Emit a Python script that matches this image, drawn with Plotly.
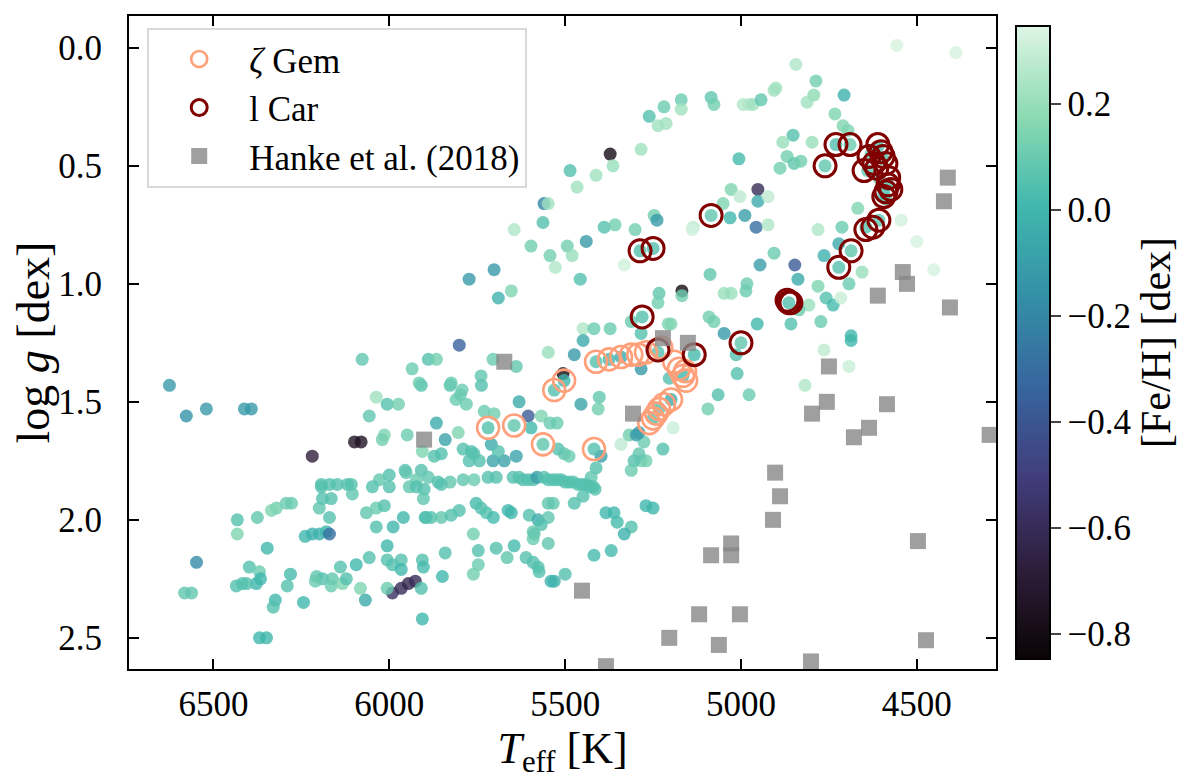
import plotly.graph_objects as go

# main sample: Teff [K], log g [dex], [Fe/H] [dex]
teff = [
    6625, 6577, 6520, 6412, 6392, 6548, 6582, 6562, 6219, 6099, 6080,
    6037, 6006, 5974, 6057, 6014, 6020, 5949, 5909, 5906, 5955, 5909, 5923,
    6028, 6000, 6048, 6000, 5943, 5923, 5901, 6193, 6170, 6148, 6119, 6108,
    6193, 6105, 6190, 6165, 6199, 6170, 6278, 6293, 6321, 6335, 6432, 6375,
    6432, 6239, 6219, 6199, 6179, 6170, 6065, 6037, 6014, 6037, 5989, 5960,
    5898, 6347, 6006, 6057, 6006, 5991, 5966, 5966, 6398, 6369, 6366, 6378,
    6418, 6435, 6406, 6281, 6290, 6207, 6190, 6210, 6162, 6165, 6133, 6122,
    6139, 6094, 6082, 6324, 6330, 6244, 6068, 6369, 6349, 5906, 5991, 5966,
    5946, 5926, 6006, 5909, 5906, 6077, 5935, 5889,
    5827, 5738, 5798, 5810, 5781, 5730, 5702, 5631, 5605, 5568, 5543, 5523,
    5597, 5455, 5403, 5406, 5866, 5841, 5804, 5710, 5872, 5852, 5790, 5767,
    5759, 5744, 5773, 5705, 5673, 5639, 5690, 5520, 5503, 5489, 5398, 5412,
    5426, 5952, 5889, 5861, 5852, 5827, 5790, 5759, 5719, 5696, 5648, 5631,
    5620, 5605, 5590, 5580, 5560, 5548, 5534, 5522, 5511, 5500, 5489, 5477,
    5463, 5452, 5440, 5430, 5420, 5415, 5903, 5449, 5474, 5548, 5534, 5753,
    5739, 5724, 5704, 5662, 5653, 5602, 5577, 5548, 5568, 5591, 5588, 5591,
    5548, 5895, 5881, 5852, 5824, 5801, 5761, 5747, 5747, 5761, 5696, 5665,
    5645, 5611, 5591, 5577, 5574, 5540, 5531, 5500, 5841, 5849, 5903, 5384,
    5361, 5352, 5312, 5332, 5369, 5418, 5270, 5250, 5284, 5304, 5270, 5312,
    5222, 5276, 5290, 5341, 5318, 5298, 5193, 5290,
    4858, 4773, 4687, 4687, 4764, 4693, 4818, 4954, 5048, 5091, 5077, 5011,
    5065, 4977, 5094, 5014, 4758, 4738, 4716, 4807, 4835,
    4557, 4389, 4844, 4787, 4793, 4812, 4707, 4901, 4906, 5085, 5077, 4994,
    4977, 4966, 4943, 5170, 5170, 4733, 4710, 4696, 4852, 4881, 4798, 5006,
    4869, 4849, 4830, 4889, 4630, 4608, 4588, 4952, 4952, 4923, 5028, 5003,
    5051, 5031, 4989, 4957, 4923, 5136, 4668, 4713, 4781, 4545, 4500, 4452,
    4722, 4764, 4656, 4906, 4946, 4847, 4838, 5088, 4983, 4986, 4781, 4693,
    5048, 5028, 5168, 5168,
    5261, 5219, 5236, 5213, 5284, 5372, 5364, 5486, 5412, 5466, 5560, 5548,
    5563, 5645, 5597, 5543, 5528, 5494, 5480, 5440, 5457, 5389, 5358, 5301,
    5247, 5239, 5139, 5332, 5773, 5702, 5690, 5653, 5233, 5236, 5312, 5207,
    5199, 5449, 5418, 5372, 5449, 5474, 5801, 5548, 5284, 5866, 5915, 5824,
    5793, 5739, 5705, 5639, 5284, 5204, 5506,
    5281, 5287, 5250, 5085, 5000, 4864, 4761, 4730, 4690, 4611, 4596, 4640,
    4582, 4594, 4608, 4645, 4687, 4722, 5236, 5133,
    5719, 5645, 5563, 5418, 5531, 5503, 5412, 5375, 5341, 5199, 5233, 5250, 5165,
]
logg = [
    1.43, 1.56, 1.53, 1.53, 1.53, 2.18, 2.31, 2.31, 1.73, 1.67, 1.67,
    1.48, 1.51, 1.51, 1.56, 1.64, 1.66, 1.64, 1.43, 1.71, 1.79, 1.79, 1.83,
    1.83, 1.81, 1.86, 1.86, 1.86, 1.86, 1.87, 1.85, 1.85, 1.85, 1.85, 1.85,
    1.86, 1.89, 1.91, 1.91, 1.95, 1.99, 1.93, 1.93, 1.95, 1.96, 2.00, 1.99,
    2.06, 2.07, 2.06, 2.06, 2.05, 2.06, 1.97, 1.95, 1.94, 2.03, 2.03, 1.99,
    1.99, 2.12, 2.11, 2.16, 2.17, 2.19, 2.17, 2.21, 2.20, 2.22, 2.25, 2.27,
    2.27, 2.28, 2.27, 2.23, 2.28, 2.24, 2.25, 2.26, 2.25, 2.28, 2.27, 2.25,
    2.20, 2.19, 2.29, 2.34, 2.37, 2.35, 2.34, 2.50, 2.50, 2.42, 2.31, 2.29,
    2.27, 2.26, 2.29, 2.29, 2.17, 1.32, 1.36, 1.32,
    1.43, 1.43, 1.47, 1.49, 1.51, 1.54, 1.55, 1.50, 1.56, 1.56, 1.59, 1.59,
    1.61, 1.51, 1.48, 1.53, 1.59, 1.66, 1.63, 1.68, 1.73, 1.72, 1.70, 1.71,
    1.72, 1.75, 1.75, 1.75, 1.75, 1.73, 1.71, 1.70, 1.72, 1.73, 1.73, 1.78,
    1.82, 1.80, 1.82, 1.84, 1.85, 1.84, 1.83, 1.83, 1.82, 1.82, 1.82, 1.82,
    1.83, 1.83, 1.83, 1.82, 1.82, 1.83, 1.83, 1.83, 1.83, 1.84, 1.84, 1.84,
    1.85, 1.85, 1.85, 1.86, 1.86, 1.87, 1.91, 1.90, 1.93, 1.93, 1.93, 1.93,
    1.95, 1.97, 1.99, 1.96, 1.97, 1.98, 2.00, 1.99, 2.02, 2.05, 2.06, 2.08,
    2.10, 1.99, 1.99, 1.99, 1.98, 1.96, 2.06, 2.13, 2.19, 2.23, 2.12, 2.16,
    2.11, 2.16, 2.18, 2.20, 2.22, 2.26, 2.26, 2.23, 2.14, 2.24, 2.20, 1.97,
    1.97, 2.01, 2.03, 2.06, 2.13, 2.15, 1.94, 1.95, 1.75, 1.75, 1.75, 1.79,
    1.70, 1.67, 1.72, 1.68, 1.64, 1.64, 1.61, 1.63,
    1.17, 1.16, 1.22, 1.24, 1.28, 1.35, 1.43, 1.17, 1.21, 1.14, 1.16, 1.38,
    1.47, 1.47, 1.53, 1.30, 1.06, 1.09, 1.06, 1.09, 1.11,
    -0.01, 0.02, 0.07, 0.14, 0.20, 0.23, 0.20, 0.17, 0.18, 0.21, 0.24, 0.24,
    0.24, 0.24, 0.22, 0.22, 0.26, 0.28, 0.33, 0.35, 0.37, 0.40, 0.40, 0.47,
    0.46, 0.49, 0.48, 0.51, 0.45, 0.55, 0.64, 0.60, 0.65, 0.63, 0.60, 0.63,
    0.66, 0.72, 0.71, 0.76, 0.75, 0.76, 0.68, 0.76, 0.77, 0.73, 0.82, 0.94,
    0.83, 0.88, 0.95, 0.87, 0.92, 0.92, 0.98, 0.96, 1.00, 1.03, 1.01, 1.00,
    1.04, 1.04, 1.03, 1.05,
    0.29, 0.25, 0.33, 0.32, 0.43, 0.45, 0.50, 0.52, 0.54, 0.59, 0.66, 0.66,
    0.74, 0.77, 0.84, 0.88, 0.93, 0.84, 0.88, 0.82, 0.98, 0.76, 0.75, 0.77,
    0.71, 0.73, 0.77, 0.92, 0.98, 0.94, 1.06, 1.03, 1.04, 1.08, 1.16, 1.17,
    1.17, 1.19, 1.19, 1.19, 1.24, 1.30, 1.26, 1.29, 1.21, 1.32, 1.42, 1.42,
    1.45, 1.39, 1.32, 1.35, 1.36, 1.40, 1.38,
    1.14, 0.86, 0.85, 0.71, 1.25, 1.08, 0.50, 0.41, 0.41, 0.42, 0.47, 0.52,
    0.58, 0.62, 0.73, 0.76, 0.86, 0.93, 1.29, 1.30,
    1.61, 1.60, 1.68, 1.70, 1.45, 1.41, 1.33, 1.32, 1.31, 1.49, 1.53, 1.57, 1.39,
]
feh = [
    -0.12, -0.15, -0.12, -0.12, -0.12, -0.18, 0.08, 0.08, -0.68, -0.75, -0.75,
    0.22, 0.05, 0.12, 0.08, 0.15, 0.12, 0.10, 0.05, 0.15, 0.05, 0.05, 0.10,
    0.08, 0.05, 0.05, 0.05, 0.08, 0.05, 0.05, 0.05, 0.05, 0.05, 0.05, 0.05,
    0.05, 0.08, 0.05, 0.05, 0.08, 0.05, 0.10, 0.10, 0.12, 0.15, 0.05, 0.08,
    0.15, 0.00, -0.02, -0.02, 0.00, -0.30, 0.08, 0.10, 0.05, 0.05, 0.00, 0.00,
    0.00, 0.00, 0.00, 0.05, 0.05, 0.05, 0.05, 0.00, 0.05, 0.10, 0.00, 0.00,
    0.05, 0.05, 0.05, 0.02, 0.05, 0.08, 0.05, 0.10, 0.08, 0.10, 0.15, 0.05,
    0.05, 0.00, 0.15, 0.00, 0.05, 0.00, -0.05, 0.00, 0.00, 0.00, -0.58, -0.60,
    -0.62, -0.60, 0.10, 0.05, 0.05, 0.08, 0.10, 0.05,
    0.05, 0.05, 0.10, 0.10, 0.10, 0.10, 0.12, -0.05, -0.38, 0.15, 0.10, 0.10,
    0.00, -0.08, 0.08, 0.12, -0.05, -0.08, 0.15, -0.05, 0.05, 0.05, 0.05, 0.05,
    0.05, 0.05, 0.05, -0.08, -0.08, -0.08, 0.05, 0.05, 0.08, 0.10, -0.10, 0.05,
    0.08, 0.08, 0.08, 0.05, 0.05, 0.08, 0.08, 0.10, 0.05, 0.05, 0.05, 0.05,
    0.05, 0.05, 0.05, -0.10, 0.05, 0.05, 0.05, 0.05, 0.05, 0.05, 0.05, 0.05,
    0.05, 0.05, 0.05, 0.05, 0.05, 0.05, 0.08, 0.05, 0.05, 0.08, 0.08, 0.02,
    0.05, 0.05, 0.02, 0.00, 0.00, 0.05, -0.05, 0.08, 0.05, 0.10, 0.08, 0.10,
    0.08, 0.05, 0.05, 0.08, 0.05, 0.05, 0.12, 0.05, 0.10, 0.12, 0.05, 0.08,
    0.02, 0.05, 0.05, 0.05, 0.05, -0.02, -0.02, 0.05, 0.05, 0.00, 0.02, 0.00,
    0.00, 0.02, 0.05, -0.02, 0.02, 0.02, 0.00, 0.00, 0.15, 0.05, 0.12, 0.10,
    0.05, 0.10, 0.08, 0.28, 0.12, -0.10, 0.30, -0.10,
    0.05, 0.10, 0.00, 0.00, 0.28, 0.30, 0.25, 0.00, -0.12, 0.12, 0.12, 0.05,
    0.05, 0.10, 0.12, 0.05, 0.05, 0.02, 0.30, 0.20, 0.10,
    0.33, 0.33, 0.25, 0.12, 0.18, 0.22, -0.02, 0.22, 0.22, 0.08, 0.12, 0.25,
    0.25, 0.22, 0.08, 0.10, 0.22, 0.15, 0.15, 0.15, 0.05, 0.20, 0.20, 0.02,
    0.12, 0.08, 0.12, 0.12, 0.10, 0.08, 0.05, -0.60, -0.05, 0.28, 0.15, 0.28,
    0.15, 0.00, -0.10, -0.30, 0.25, 0.28, 0.15, 0.10, 0.25, 0.32, 0.33, 0.33,
    -0.05, -0.02, 0.20, 0.10, -0.10, -0.38, -0.05, 0.08, 0.10, 0.10, 0.15, 0.10,
    0.20, 0.20, -0.80, 0.12,
    0.05, 0.10, 0.22, 0.22, 0.22, -0.80, 0.20, 0.05, 0.22, 0.22, -0.20, 0.22,
    0.05, 0.25, 0.12, 0.12, 0.25, 0.12, 0.20, -0.12, 0.05, 0.05, 0.12, 0.12,
    0.12, -0.12, 0.32, 0.32, -0.12, -0.12, -0.02, 0.15, 0.08, 0.12, 0.10, 0.15,
    0.15, 0.25, 0.10, 0.10, -0.05, -0.12, -0.35, 0.20, 0.05, 0.12, 0.10, 0.10,
    0.10, 0.08, 0.10, 0.08, -0.12, 0.05, -0.80,
    0.05, 0.05, 0.05, 0.08, 0.08, 0.05, 0.08, 0.05, 0.10, 0.05, 0.05, 0.08,
    0.05, 0.05, 0.08, 0.05, 0.08, 0.05, 0.05, 0.02,
    0.05, 0.08, 0.08, 0.05, 0.05, 0.00, 0.05, 0.00, -0.05, -0.05, 0.05, 0.05, 0.00,
]

# zeta Gem phases
zgem_teff = [5719, 5645, 5563, 5418, 5531, 5503, 5412, 5375, 5341, 5312, 5292, 5270,
             5227, 5190, 5176, 5159, 5165, 5156, 5199, 5219, 5233, 5241, 5250, 5261]
zgem_logg = [1.61, 1.60, 1.68, 1.70, 1.45, 1.41, 1.33, 1.32, 1.31, 1.30, 1.30, 1.29,
             1.27, 1.33, 1.36, 1.37, 1.39, 1.41, 1.49, 1.51, 1.53, 1.55, 1.57, 1.59]

# l Car phases
lcar_teff = [5281, 5287, 5250, 5085, 5236, 5133, 5000, 4864, 4869, 4858, 4761, 4730,
             4690, 4611, 4636, 4596, 4650, 4622, 4588, 4580, 4582, 4588, 4594, 4608,
             4625, 4645, 4687, 4722, 4602, 4614, 4574]
lcar_logg = [1.14, 0.86, 0.85, 0.71, 1.28, 1.30, 1.25, 1.08, 1.07, 1.08, 0.50, 0.41,
             0.41, 0.41, 0.46, 0.46, 0.52, 0.49, 0.49, 0.55, 0.58, 0.61, 0.63, 0.73,
             0.76, 0.77, 0.86, 0.93, 0.44, 0.51, 0.60]

# Hanke et al. (2018)
hanke_teff = [5673, 5901, 5307, 5222, 5151, 5452, 5384, 5204, 5119, 5003, 5063, 5085,
              5028, 5028, 4909, 4889, 4903, 4801, 4497, 4474, 4798, 4756, 4750, 4679,
              4636, 4585, 4293, 4611, 4406, 4412, 4423, 4540, 4528]
hanke_logg = [1.33, 1.66, 1.55, 1.23, 1.25, 2.30, 2.62, 2.50, 2.40, 2.40, 2.53, 2.15,
              2.10, 2.15, 2.00, 1.90, 1.80, 2.60, 2.09, 2.51, 1.55, 1.50, 1.35, 1.65,
              1.61, 1.51, 1.64, 1.05, 1.10, 0.55, 0.65, 0.95, 1.00]

feh_ticks = [-0.8, -0.6, -0.4, -0.2, 0.0, 0.2]
teff_ticks = [6500, 6000, 5500, 5000, 4500]
logg_ticks = [0.0, 0.5, 1.0, 1.5, 2.0, 2.5]

mako = [[0.0, "#0b0405"], [0.143, "#2e1e3b"], [0.286, "#413d7b"], [0.429, "#37659e"],
        [0.571, "#348fa7"], [0.714, "#40b7ad"], [0.857, "#8bdab2"], [1.0, "#def5e5"]]

FONT = "Liberation Serif"

fig = go.Figure()

fig.add_trace(go.Scatter(
    x=teff, y=logg, mode="markers", showlegend=False,
    marker=dict(size=13, color=feh, colorscale=mako, cmin=-0.847, cmax=0.347,
                opacity=0.8, line=dict(width=0),
                colorbar=dict(x=1.023, xanchor="left", xpad=0, y=0.5, len=1,
                              thickness=34, outlinewidth=2, outlinecolor="black",
                              ticks="outside", ticklen=10, tickwidth=2,
                              tickvals=feh_ticks, tickformat=".1f", tickprefix="\u2009",
                              tickfont=dict(family=FONT, size=35, color="black"),
                              title=dict(text="[Fe/H] [dex]", side="right",
                                         font=dict(family=FONT, size=42, color="black"))))
))

fig.add_trace(go.Scatter(
    x=zgem_teff, y=zgem_logg, mode="markers", name="<i>ζ</i> Gem",
    marker=dict(symbol="circle-open", size=22, color="#FFA07A", line=dict(width=2.6))
))
fig.add_trace(go.Scatter(
    x=lcar_teff, y=lcar_logg, mode="markers", name="l Car",
    marker=dict(symbol="circle-open", size=22, color="#800000", line=dict(width=3))
))
fig.add_trace(go.Scatter(
    x=hanke_teff, y=hanke_logg, mode="markers", name="Hanke et al. (2018)",
    marker=dict(symbol="square", size=16, color="rgba(135,135,135,0.8)", line=dict(width=0))
))

axis_common = dict(showline=True, linewidth=2, linecolor="black", mirror="ticks",
                   ticks="inside", ticklen=10, tickwidth=2, tickcolor="black",
                   showgrid=False, zeroline=False,
                   tickfont=dict(family=FONT, size=35, color="black"))

fig.update_xaxes(range=[6740, 4275], tickvals=teff_ticks, ticklabelstandoff=3,
                 title=dict(text="<i>T</i><sub>eff</sub> [K]",
                            font=dict(family=FONT, size=44, color="black"), standoff=0),
                 **axis_common)
fig.update_yaxes(range=[2.632, -0.135], tickvals=logg_ticks, tickformat=".1f",
                 ticklabelstandoff=18,
                 title=dict(text="log <i>g</i> [dex]",
                            font=dict(family=FONT, size=46, color="black"), standoff=4),
                 **axis_common)

fig.update_layout(
    width=1200, height=779,
    margin=dict(l=121, r=212, t=6, b=118),
    plot_bgcolor="white", paper_bgcolor="white",
    font=dict(family=FONT, color="black"),
    legend=dict(x=0.021, y=0.982, xanchor="left", yanchor="top",
                bgcolor="rgba(255,255,255,0.9)", bordercolor="#d9d9d9", borderwidth=2,
                font=dict(family=FONT, size=35, color="black"), itemwidth=90),
)

fig.write_html("out.html")
